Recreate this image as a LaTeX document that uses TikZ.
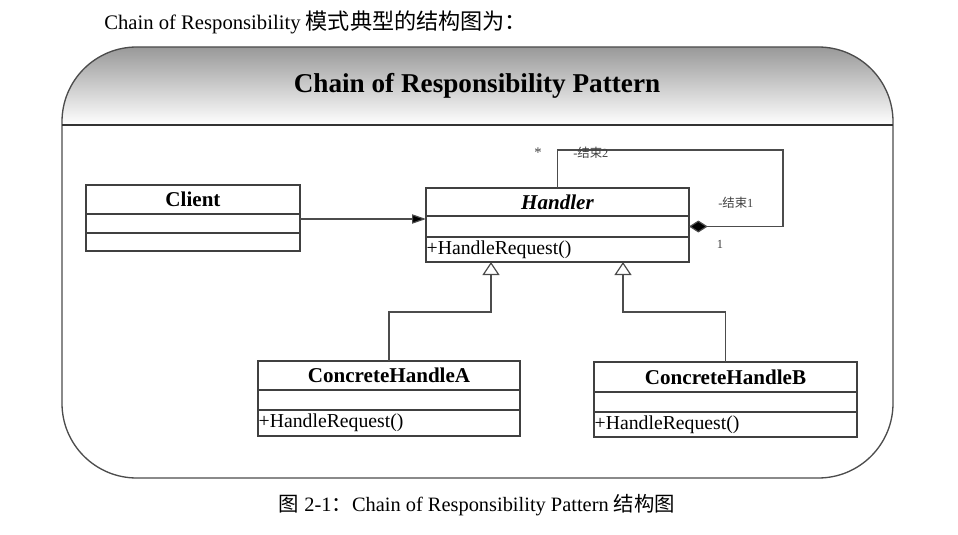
\documentclass[tikz,border=0pt]{standalone}
\usepackage{fontspec}
\setmainfont{Liberation Serif}
\newfontfamily\cjk{Noto Sans CJK SC}
\usetikzlibrary{arrows.meta}
\tikzset{
  cell/.style={draw=black!75, line width=0.9pt, inner sep=0pt, outer sep=0pt, anchor=north west},
  ttl/.style={cell, font=\fontsize{15.8}{18}\selectfont\bfseries},
  meth/.style={cell, font=\fontsize{14.8}{17}\selectfont, align=left, inner xsep=0.5pt},
  conn/.style={draw=black!70, line width=0.9pt},
  gen/.style={conn, -{Triangle[open, length=9.75pt, width=12.75pt, fill=white]}},
  small/.style={font=\fontsize{9.3}{11}\selectfont, text=black!75, inner sep=0pt},
}
\begin{document}
\begin{tikzpicture}[x=0.75pt, y=-0.75pt]
\useasboundingbox (0,0) rectangle (958,535);

% top text
\node[anchor=west, inner sep=0pt, font=\fontsize{15.5}{18}\selectfont] (intro) at (104,22)
  {Chain of Responsibility {\cjk\fontsize{16.6}{18}\selectfont 模式典型的结构图为：}};

% frame
\begin{scope}
  \clip[rounded corners=56pt] (62,47) rectangle (893,478);
  \shade[top color=black!40, bottom color=white] (62,47) rectangle (893,125);
\end{scope}
\draw[draw=black!70, line width=1pt, rounded corners=56pt] (62,47) rectangle (893,478);
\draw[draw=black!80, line width=1pt] (62,125) -- (893,125);
\node[font=\fontsize{20.4}{24}\selectfont\bfseries, inner sep=0pt] (title) at (477,86) {Chain of Responsibility Pattern};

% Client
\node[ttl, minimum width=160.5pt, minimum height=21.75pt] (c1) at (86,185) {Client};
\node[cell, minimum width=160.5pt, minimum height=14.25pt] (c2) at (86,214) {};
\node[cell, minimum width=160.5pt, minimum height=13.5pt] (c3) at (86,233) {};

% Handler
\node[ttl, minimum width=197.25pt, minimum height=21pt] (h1) at (426,188) {\itshape Handler};
\node[cell, minimum width=197.25pt, minimum height=15.75pt] (h2) at (426,216) {};
\node[meth, text width=196.25pt, minimum height=18.75pt] (h3) at (426,237) {+HandleRequest()};

% ConcreteHandleA
\node[ttl, minimum width=196.5pt, minimum height=21.75pt] (a1) at (258,361) {ConcreteHandleA};
\node[cell, minimum width=196.5pt, minimum height=15pt] (a2) at (258,390) {};
\node[meth, text width=195.5pt, minimum height=19.5pt] (a3) at (258,410) {+HandleRequest()};

% ConcreteHandleB
\node[ttl, minimum width=197.25pt, minimum height=22.5pt] (b1) at (594,362) {ConcreteHandleB};
\node[cell, minimum width=197.25pt, minimum height=15pt] (b2) at (594,392) {};
\node[meth, text width=196.25pt, minimum height=18.75pt] (b3) at (594,412) {+HandleRequest()};

% Client -> Handler
\path (c2.north east) ++(0,5) coordinate (ca);
\draw[conn, -{Triangle[length=10.5pt, width=7pt, fill=black]}] (ca) -- (ca -| h2.west);

% self association
\path (h1.north) ++(0,-38) coordinate (stop);
\draw[conn, {Diamond[length=14pt, width=9pt, fill=black]}-] (h2.east) -- ++(94,0) |- (stop) -- (h1.north);
\node[small, font=\fontsize{11}{12}\selectfont] (star) at (538,153) {*};
\node[small, anchor=west] (e2) at (573,153) {-{\cjk 结束}2};
\node[small, anchor=west] (e1) at (718,203) {-{\cjk 结束}1};
\node[small] (one) at (720,244) {1};

% generalizations
\path (h3.south west) ++(65,0) coordinate (ga);
\path (h3.south west) ++(197,0) coordinate (gb);
\draw[gen] (a1.north) -- ++(0,-49) -| (ga);
\draw[gen] (b1.north) -- ++(0,-50) -| (gb);

% caption
\node[font=\fontsize{15.3}{18}\selectfont, inner sep=0pt] (cap) at (477,505)
  {{\cjk 图} 2-1{\cjk ：}Chain of Responsibility Pattern {\cjk 结构图}};
\end{tikzpicture}
\end{document}
